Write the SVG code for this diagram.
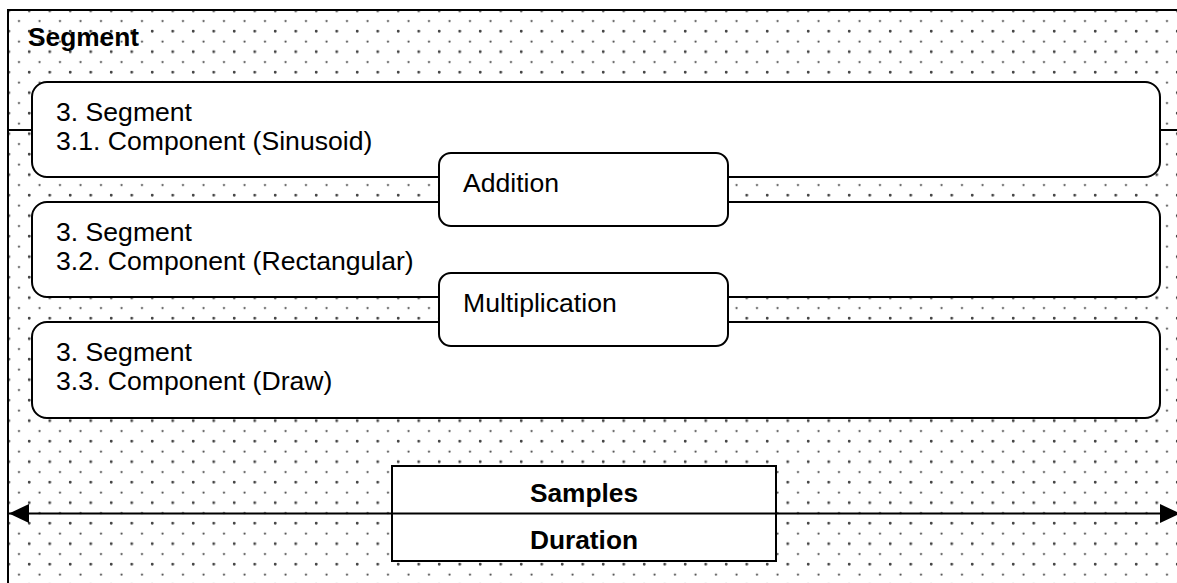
<svg xmlns="http://www.w3.org/2000/svg" width="1177" height="583" viewBox="0 0 1177 583">
  <defs>
    <pattern id="dots" patternUnits="userSpaceOnUse" x="8.5" y="10.5" width="20.5" height="20.5">
      <circle cx="0.5" cy="0.5" r="1.1" fill="#444"/>
      <circle cx="10.5" cy="10.5" r="1.1" fill="#444"/>
      <circle cx="20.5" cy="20.5" r="1.1" fill="#444"/>
      <circle cx="20.5" cy="0.5" r="1.1" fill="#444"/>
      <circle cx="0.5" cy="20.5" r="1.1" fill="#444"/>
    </pattern>
    <marker id="arrow" markerUnits="userSpaceOnUse" markerWidth="20" markerHeight="20" refX="20" refY="10" orient="auto-start-reverse" viewBox="0 0 20 20">
      <path d="M0,0.5 L20,10 L0,19.5 Z" fill="#000"/>
    </marker>
    <style>
      .box { fill: #fff; stroke: #000; stroke-width: 2; }
      .line { stroke: #000; stroke-width: 2; fill: none; }
      .t { font-family: "Liberation Sans", Arial, sans-serif; font-size: 26.6px; fill: #000; }
      .b { font-weight: bold; font-size: 26.3px; }
    </style>
  </defs>

  <g id="segment-frame">
    <rect x="8" y="10" width="1250" height="650" fill="url(#dots)" stroke="#000" stroke-width="2"/>
    <text class="t b" x="28" y="46">Segment</text>
  </g>

  <g id="connectors">
    <line class="line" x1="8" y1="130" x2="32" y2="130"/>
    <line class="line" x1="1160" y1="130" x2="1177" y2="130"/>
  </g>

  <g id="component-sinusoid">
    <rect class="box" x="32" y="82" width="1128" height="95" rx="15" ry="15"/>
    <text class="t" x="56" y="120.5">3. Segment</text>
    <text class="t" x="56" y="150">3.1. Component (Sinusoid)</text>
  </g>

  <g id="component-rectangular">
    <rect class="box" x="32" y="202" width="1128" height="95" rx="15" ry="15"/>
    <text class="t" x="56" y="240.5">3. Segment</text>
    <text class="t" x="56" y="270">3.2. Component (Rectangular)</text>
  </g>

  <g id="component-draw">
    <rect class="box" x="32" y="322" width="1128" height="96" rx="15" ry="15"/>
    <text class="t" x="56" y="360.5">3. Segment</text>
    <text class="t" x="56" y="390">3.3. Component (Draw)</text>
  </g>

  <g id="addition">
    <rect class="box" x="439" y="153" width="289" height="73" rx="12" ry="12"/>
    <text class="t" x="463" y="192">Addition</text>
  </g>

  <g id="multiplication">
    <rect class="box" x="439" y="273" width="289" height="73" rx="12" ry="12"/>
    <text class="t" x="463" y="312">Multiplication</text>
  </g>

  <g id="samples-duration">
    <rect class="box" x="392" y="466" width="384" height="95"/>
    <text class="t b" x="584" y="501.5" text-anchor="middle">Samples</text>
    <text class="t b" x="584" y="549" text-anchor="middle">Duration</text>
  </g>

  <g id="duration-arrow">
    <line class="line" x1="9" y1="513.5" x2="1180" y2="513.5" marker-start="url(#arrow)" marker-end="url(#arrow)"/>
  </g>
</svg>
